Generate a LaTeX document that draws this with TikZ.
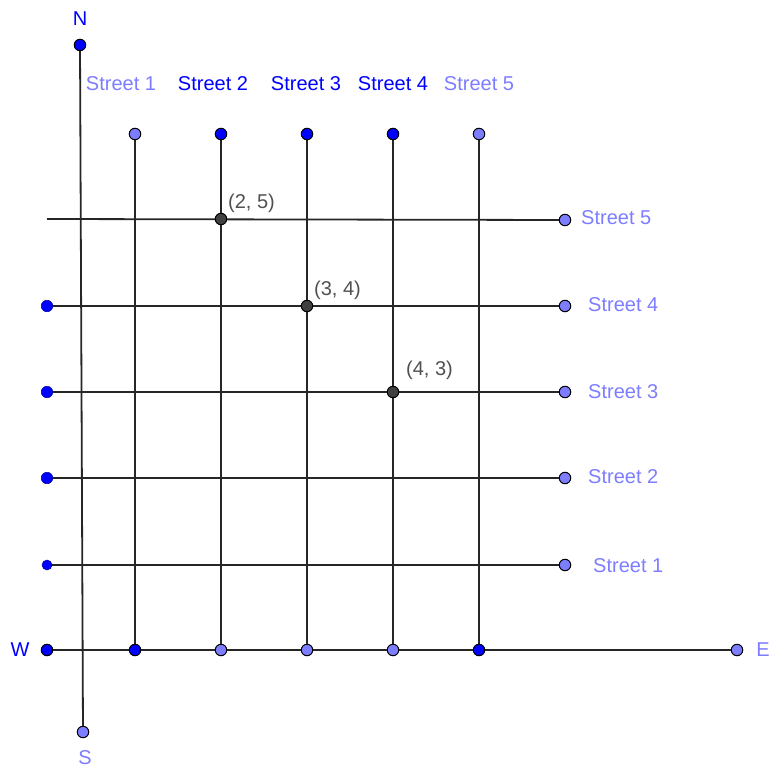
\documentclass[tikz,border=0pt]{standalone}
\usepackage{fontspec}
\setmainfont{Liberation Sans}
\usetikzlibrary{backgrounds}
\definecolor{dkb}{RGB}{0,0,255}
\definecolor{ltb}{RGB}{125,125,255}
\definecolor{ptgray}{RGB}{64,64,64}
\definecolor{txtgray}{RGB}{80,80,80}
\begin{document}
\begin{tikzpicture}[x=1pt,y=-1pt,
  dotb/.style={circle, fill=dkb, draw=black, line width=1pt, inner sep=0pt, minimum size=11.5pt},
  dotbn/.style={circle, fill=dkb, draw=dkb!60!black, line width=0.5pt, inner sep=0pt, minimum size=11.5pt},
  dotl/.style={circle, fill=ltb, draw=black, line width=1pt, inner sep=0pt, minimum size=11.5pt},
  dotg/.style={circle, fill=ptgray, draw=black, line width=1pt, inner sep=0pt, minimum size=11.5pt},
  lbl/.style={font=\fontsize{20}{20}\selectfont, inner sep=0pt},
  lblb/.style={lbl, text=dkb},
  lbll/.style={lbl, text=ltb},
  lblg/.style={lbl, text=txtgray},
  road/.style={draw=black!85, line width=1.8pt},
  thinroad/.style={draw=black!85, line width=1.2pt}]
\useasboundingbox (0,0) rectangle (770,770);

% compass
\node[dotb] (N) at (80,45) {};
\node[dotl] (S) at (83,732) {};
\node[dotb] (W) at (47,650) {};
\node[dotl] (E) at (737,650) {};
\node[lblb] (Nl) at (80,19) {N};
\node[lbll] (Sl) at (85,758) {S};
\node[lblb] (Wl) at (20,650) {W};
\node[lbll] (El) at (763,650) {E};

% vertical streets
\node[dotl] (t1) at (135,134) {};
\node[dotb] (t2) at (221,134) {};
\node[dotb] (t3) at (307,134) {};
\node[dotb] (t4) at (393,134) {};
\node[dotl] (t5) at (479,134) {};
\node[dotb] (b1) at (135,650) {};
\node[dotl] (b2) at (221,650) {};
\node[dotl] (b3) at (307,650) {};
\node[dotl] (b4) at (393,650) {};
\node[dotb] (b5) at (479,650) {};

\node[lbll] (v1) at (121,84) {Street 1};
\node[lblb] (v2) at (213,84) {Street 2};
\node[lblb] (v3) at (306,84) {Street 3};
\node[lblb] (v4) at (393,84) {Street 4};
\node[lbll] (v5) at (479,84) {Street 5};

% horizontal streets
\coordinate (l5) at (47,219);
\node[dotbn] (l4) at (47,306) {};
\node[dotbn] (l3) at (47,392) {};
\node[dotbn] (l2) at (47,478) {};
\node[dotbn, minimum size=10pt] (l1) at (47,565) {};
\node[dotl] (r5) at (565,220) {};
\node[dotl] (r4) at (565,306) {};
\node[dotl] (r3) at (565,392) {};
\node[dotl] (r2) at (565,478) {};
\node[dotl] (r1) at (565,565) {};

\node[lbll, anchor=west] (h5) at (581,218) {Street 5};
\node[lbll, anchor=west] (h4) at (588,305) {Street 4};
\node[lbll, anchor=west] (h3) at (588,392) {Street 3};
\node[lbll, anchor=west] (h2) at (588,477) {Street 2};
\node[lbll, anchor=west] (h1) at (593,566) {Street 1};

% intersections
\node[dotg] (p25) at (221,219) {};
\node[dotg] (p34) at (307,306) {};
\node[dotg] (p43) at (393,392) {};
\node[lblg, anchor=west] (q25) at (228,203) {(2, 5)};
\node[lblg, anchor=west] (q34) at (314,290) {(3, 4)};
\node[lblg, anchor=west] (q43) at (406,370) {(4, 3)};

\begin{scope}[on background layer]
  \draw[road] (N.center) -- (S.center);
  \draw[road] (W.center) -- (E.center);
  \foreach \i in {1,...,5} { \draw[road] (t\i.center) -- (b\i.center); }
  \draw[road] (l5) -- (r5.center);
  \foreach \i in {2,3,4} { \draw[road] (l\i.center) -- (r\i.center); }
  \draw[thinroad] (l1.center) -- (r1.center);
\end{scope}
\end{tikzpicture}
\end{document}
